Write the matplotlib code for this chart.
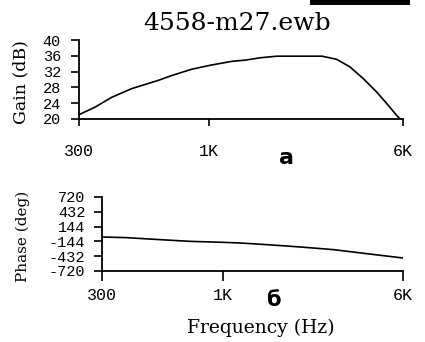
import matplotlib
matplotlib.use("Agg")
import matplotlib.pyplot as plt
from matplotlib.patches import Rectangle
from matplotlib.ticker import NullLocator, FixedLocator, FixedFormatter

title = "4558-m27.ewb"
x_ticks = [300, 1000, 6000]
x_tick_labels = ["300", "1K", "6K"]

gain_freq = [300, 348, 406, 489, 626, 707, 851, 1008, 1233, 1396, 1603, 1869,
             2838, 3250, 3672, 4160, 4710, 5180, 5680, 5850, 6000]
gain_db = [21.1, 23.0, 25.5, 27.7, 29.8, 31.0, 32.6, 33.6, 34.6, 34.9, 35.5, 35.9,
           35.9, 35.1, 33.2, 30.2, 26.8, 23.8, 20.8, 20.0, 19.4]
gain_ticks = [20, 24, 28, 32, 36, 40]

phase_freq = [300, 383, 535, 720, 1000, 1185, 1545, 2150, 3000, 4170, 6000]
phase_deg = [-58, -71, -110, -143, -162, -175, -207, -252, -304, -382, -467]
phase_ticks = [-720, -432, -144, 144, 432, 720]

W, H = 425, 342
fig = plt.figure(figsize=(W / 100, H / 100), dpi=100)

def px_axes(left, top, right, bottom):
    return fig.add_axes([left / W, 1 - bottom / H, (right - left) / W, (bottom - top) / H])

mono = "Liberation Mono"
serif = "DejaVu Serif"

def style(ax, ylim, yticks, ytick_size, xpad, ypad, xlen, ylen):
    ax.set_xscale("log")
    ax.set_xlim(300, 6000)
    ax.set_ylim(*ylim)
    for s in ("top", "right"):
        ax.spines[s].set_visible(False)
    for s in ("left", "bottom"):
        ax.spines[s].set_linewidth(1.3)
    ax.xaxis.set_major_locator(FixedLocator(x_ticks))
    ax.xaxis.set_major_formatter(FixedFormatter(x_tick_labels))
    ax.xaxis.set_minor_locator(NullLocator())
    ax.set_yticks(yticks)
    ax.set_yticklabels([str(v) for v in yticks])
    ax.tick_params(axis="x", direction="out", length=xlen, width=1.2, pad=xpad,
                   labelsize=12, labelfontfamily=mono)
    ax.tick_params(axis="y", direction="out", length=ylen, width=1.2, pad=ypad,
                   labelsize=ytick_size, labelfontfamily=mono)
    ax.patch.set_alpha(0)

ax1 = px_axes(79, 40, 403, 119)
ax1.plot(gain_freq, gain_db, color="black", lw=1.2)
style(ax1, (20, 40), gain_ticks, 11, 13, 7, 5, 6)

ax2 = px_axes(102, 197, 403, 271)
ax2.plot(phase_freq, phase_deg, color="black", lw=1.2)
style(ax2, (-720, 720), phase_ticks, 11, 5, 6, 7, 6)

fig.text(237.5 / W, 1 - 30 / H, title, family=serif, fontsize=18, ha="center", va="baseline")
fig.text(21 / W, 1 - 82 / H, "Gain (dB)", family=serif, fontsize=12.5, rotation=90,
         ha="center", va="center")
fig.text(23 / W, 1 - 236 / H, "Phase (deg)", family=serif, fontsize=11, rotation=90,
         ha="center", va="center")
fig.text(261 / W, 1 - 333 / H, "Frequency (Hz)", family=serif, fontsize=13.5,
         ha="center", va="baseline")
fig.text(286 / W, 1 - 158 / H, "а", family="DejaVu Sans", fontweight="bold", fontsize=16,
         ha="center", va="center")
fig.text(273 / W, 1 - 300 / H, "б", family="DejaVu Sans", fontweight="bold", fontsize=15,
         ha="center", va="center")

fig.add_artist(Rectangle((310 / W, 1 - 5 / H), 100 / W, 5 / H, transform=fig.transFigure,
                         facecolor="black", edgecolor="none"))

fig.savefig("out.png", dpi=100)
